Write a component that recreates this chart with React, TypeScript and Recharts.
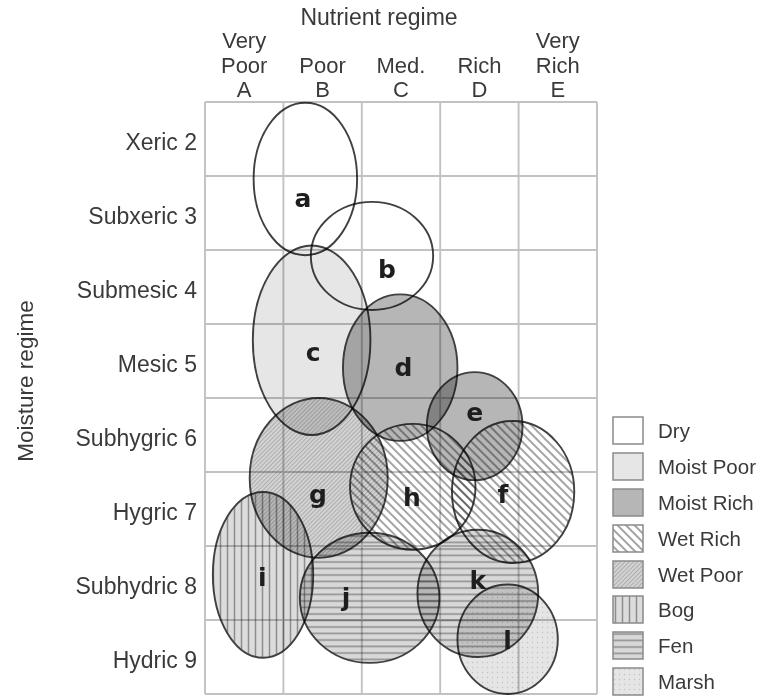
import type { FC } from 'react';
import { ScatterChart, Scatter, XAxis, YAxis, CartesianGrid } from 'recharts';

// nutrient regime columns (x = 1..5)
const nutrientNames = ['Very Poor', 'Poor', 'Med.', 'Rich', 'Very Rich'];
const nutrientCodes = ['A', 'B', 'C', 'D', 'E'];

// moisture regime rows (y = 2..9)
const moistureNames = [
  'Xeric',
  'Subxeric',
  'Submesic',
  'Mesic',
  'Subhygric',
  'Hygric',
  'Subhydric',
  'Hydric',
];
const moistureValues = [2, 3, 4, 5, 6, 7, 8, 9];

// site units
const zoneIds = ['a', 'b', 'c', 'd', 'e', 'f', 'g', 'h', 'i', 'j', 'k', 'l'];
const zoneTypes = [
  'Dry',
  'Dry',
  'Moist Poor',
  'Moist Rich',
  'Moist Rich',
  'Wet Rich',
  'Wet Poor',
  'Wet Rich',
  'Bog',
  'Fen',
  'Fen',
  'Marsh',
];
const zoneNutrient = [1.78, 2.63, 1.86, 2.99, 3.94, 4.43, 1.95, 3.15, 1.24, 2.6, 3.98, 4.36];
const zoneMoisture = [2.54, 3.58, 4.72, 5.09, 5.88, 6.77, 6.58, 6.7, 7.89, 8.2, 8.14, 8.76];
const zoneNutrientSpan = [0.66, 0.78, 0.75, 0.73, 0.61, 0.78, 0.88, 0.8, 0.64, 0.89, 0.77, 0.64];
const zoneMoistureSpan = [1.03, 0.73, 1.28, 0.99, 0.73, 0.96, 1.08, 0.85, 1.12, 0.88, 0.86, 0.74];
const labelNutrient = [1.75, 2.82, 1.88, 3.03, 3.94, 4.3, 1.94, 3.14, 1.23, 2.3, 3.98, 4.36];
const labelMoisture = [2.8, 3.77, 4.88, 5.09, 5.7, 6.81, 6.81, 6.84, 7.92, 8.19, 7.96, 8.78];

const legendTypes = ['Dry', 'Moist Poor', 'Moist Rich', 'Wet Rich', 'Wet Poor', 'Bog', 'Fen', 'Marsh'];

const W = 765;
const H = 696;
const MARGIN = { top: 0, right: 168, bottom: 2, left: 0 };
const Y_AXIS_W = 205;
const X_AXIS_H = 102;
const X_DOMAIN: [number, number] = [0.5, 5.5];
const Y_DOMAIN: [number, number] = [1.5, 9.5];
const PX_X = (W - MARGIN.left - MARGIN.right - Y_AXIS_W) / (X_DOMAIN[1] - X_DOMAIN[0]);
const PX_Y = (H - MARGIN.top - MARGIN.bottom - X_AXIS_H) / (Y_DOMAIN[1] - Y_DOMAIN[0]);

const FONT = '"Liberation Sans", Arial, sans-serif';
const TEXT = '#3a3a3a';

const fills: Record<string, string> = {
  Dry: '#ffffff',
  'Moist Poor': '#e6e6e6',
  'Moist Rich': '#b6b6b6',
  'Wet Rich': 'url(#wetRich)',
  'Wet Poor': 'url(#wetPoor)',
  Bog: 'url(#bog)',
  Fen: 'url(#fen)',
  Marsh: 'url(#marsh)',
};

const zones = zoneIds.map((id, i) => ({
  id,
  type: zoneTypes[i],
  x: zoneNutrient[i],
  y: zoneMoisture[i],
  rx: zoneNutrientSpan[i],
  ry: zoneMoistureSpan[i],
}));
const labels = zoneIds.map((id, i) => ({ id, x: labelNutrient[i], y: labelMoisture[i] }));

// cell boundaries between the regimes
const columnEdges = [0, ...nutrientCodes.map((_, i) => i + 1)].map((v) => v + 0.5);
const rowEdges = [1, ...moistureValues].map((v) => v + 0.5);

const EllipseShape = (props: any) => {
  const { cx, cy, payload } = props;
  return (
    <ellipse
      cx={cx}
      cy={cy}
      rx={payload.rx * PX_X}
      ry={payload.ry * PX_Y}
      fill={fills[payload.type]}
      stroke="#404040"
      strokeWidth={1.9}
      style={{ mixBlendMode: 'multiply' }}
    />
  );
};

const LetterShape = (props: any) => {
  const { cx, cy, payload } = props;
  return (
    <text
      x={cx}
      y={cy}
      textAnchor="middle"
      dominantBaseline="central"
      fontFamily='"DejaVu Sans", sans-serif'
      fontWeight="bold"
      fontSize={25}
      fill="#1e1e1e"
    >
      {payload.id}
    </text>
  );
};

const NutrientTick = (props: any) => {
  const { x, payload } = props;
  const i = nutrientCodes.findIndex((_, k) => k + 1 === payload.value);
  const lines = [...nutrientNames[i].split(' '), nutrientCodes[i]];
  return (
    <g>
      {lines.map((t, k) => (
        <text
          key={k}
          x={x}
          y={X_AXIS_H - 5 - (lines.length - 1 - k) * 24.5}
          textAnchor="middle"
          fontFamily={FONT}
          fontSize={22}
          fill={TEXT}
        >
          {t}
        </text>
      ))}
    </g>
  );
};

// grid lines on the cell boundaries, placed from the axis domains
const gridX = ({ offset }: any) => columnEdges.map((v) => offset.left + (v - X_DOMAIN[0]) * PX_X);
const gridY = ({ offset }: any) => rowEdges.map((v) => offset.top + (v - Y_DOMAIN[0]) * PX_Y);

const LegendBox: FC = () => (
  <div
    style={{
      position: 'absolute',
      left: 612,
      top: 413,
      fontFamily: FONT,
      fontSize: 20.5,
      color: TEXT,
    }}
  >
    {legendTypes.map((t) => (
      <div key={t} style={{ display: 'flex', alignItems: 'center', height: 35.9 }}>
        <svg width={33} height={30} style={{ marginRight: 13 }}>
          <rect x={1} y={1} width={30} height={27} fill={fills[t]} stroke="#8a8a8a" strokeWidth={1.5} />
        </svg>
        <span>{t}</span>
      </div>
    ))}
  </div>
);

const App: FC = () => {
  return (
    <div style={{ position: 'absolute', left: 0, top: 0, width: W, height: H, background: '#fff' }}>
      <ScatterChart width={W} height={H} margin={MARGIN}>
        <defs>
          <pattern id="wetRich" width="6" height="6" patternUnits="userSpaceOnUse" patternTransform="rotate(-45)">
            <rect width="6" height="6" fill="#ffffff" />
            <line x1="3" y1="0" x2="3" y2="6" stroke="#9a9a9a" strokeWidth="1.8" />
          </pattern>
          <pattern id="wetPoor" width="3" height="3" patternUnits="userSpaceOnUse" patternTransform="rotate(45)">
            <rect width="3" height="3" fill="#d3d3d3" />
            <line x1="1.5" y1="0" x2="1.5" y2="3" stroke="#adadad" strokeWidth="1" />
          </pattern>
          <pattern id="bog" width="7" height="7" patternUnits="userSpaceOnUse">
            <rect width="7" height="7" fill="#dcdcdc" />
            <line x1="3.5" y1="0" x2="3.5" y2="7" stroke="#8e8e8e" strokeWidth="1.5" />
          </pattern>
          <pattern id="fen" width="6" height="6.5" patternUnits="userSpaceOnUse">
            <rect width="6" height="6.5" fill="#d8d8d8" />
            <line x1="0" y1="3" x2="6" y2="3" stroke="#949494" strokeWidth="1.7" />
          </pattern>
          <pattern id="marsh" width="5" height="5" patternUnits="userSpaceOnUse">
            <rect width="5" height="5" fill="#e5e5e5" />
            <circle cx="2.5" cy="2.5" r="0.7" fill="#c2c2c2" />
          </pattern>
        </defs>
        <CartesianGrid
          xAxisId="main"
          yAxisId="main"
          stroke="#c2c2c2"
          strokeWidth={1.9}
          verticalCoordinatesGenerator={gridX}
          horizontalCoordinatesGenerator={gridY}
        />
        <XAxis
          xAxisId="main"
          dataKey="x"
          type="number"
          orientation="top"
          domain={X_DOMAIN}
          ticks={nutrientCodes.map((_, i) => i + 1)}
          height={X_AXIS_H}
          axisLine={false}
          tickLine={false}
          tickSize={0}
          tickMargin={0}
          tick={<NutrientTick />}
          interval={0}
          label={{
            value: 'Nutrient regime',
            position: 'insideTop',
            offset: 9,
            dx: -22,
            fill: TEXT,
            fontSize: 23,
            fontFamily: FONT,
          }}
        />
        <YAxis
          yAxisId="main"
          dataKey="y"
          type="number"
          domain={Y_DOMAIN}
          reversed
          ticks={moistureValues}
          width={Y_AXIS_W}
          axisLine={false}
          tickLine={false}
          tickSize={0}
          tickMargin={8}
          interval={0}
          tickFormatter={(v) => `${moistureNames[moistureValues.indexOf(v)]} ${v}`}
          tick={{ fill: TEXT, fontSize: 23, fontFamily: FONT, dy: 3 }}
        />
        <text
          x={25}
          y={381}
          transform="rotate(-90, 25, 381)"
          textAnchor="middle"
          dominantBaseline="central"
          fontFamily={FONT}
          fontSize={22.5}
          fill={TEXT}
        >
          Moisture regime
        </text>
        <Scatter
          xAxisId="main"
          yAxisId="main"
          data={zones}
          shape={<EllipseShape />}
          isAnimationActive={false}
        />
        <Scatter
          xAxisId="main"
          yAxisId="main"
          data={labels}
          shape={<LetterShape />}
          isAnimationActive={false}
        />
      </ScatterChart>
      <LegendBox />
    </div>
  );
};

export default App;
